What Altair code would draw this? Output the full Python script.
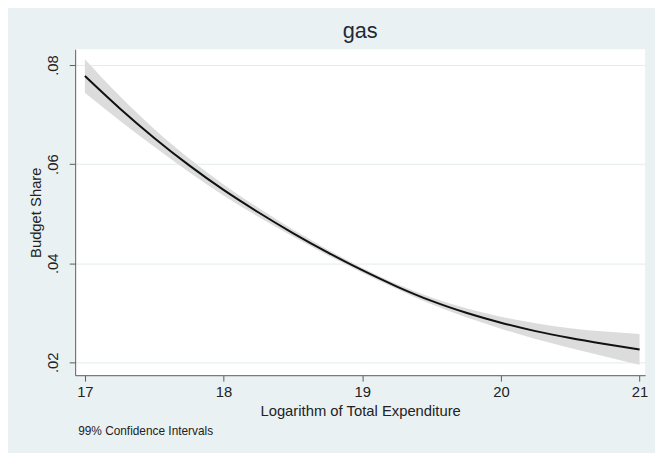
import altair as alt
import pandas as pd

# Logarithm of total expenditure (x) and fitted budget share with 99% CI
log_exp = [17.0, 17.25, 17.5, 17.75, 18.0, 18.25, 18.5, 18.75, 19.0,
           19.25, 19.5, 19.75, 20.0, 20.25, 20.5, 20.75, 21.0]
share = [0.0778, 0.0713, 0.0653, 0.0598, 0.0548, 0.0503, 0.0461, 0.0422, 0.0386,
         0.0353, 0.0324, 0.0300, 0.0280, 0.0263, 0.0249, 0.0237, 0.0226]
ci_half = [0.0034, 0.0025, 0.0018, 0.0014, 0.0011, 0.0009, 0.0007, 0.0006, 0.0005,
           0.0005, 0.0007, 0.0009, 0.0012, 0.0016, 0.0020, 0.0025, 0.0031]

df = pd.DataFrame({
    "x": log_exp,
    "y": share,
    "lo": [s - h for s, h in zip(share, ci_half)],
    "hi": [s + h for s, h in zip(share, ci_half)],
})

FONT = "Liberation Sans"
BG = "#eaf1f3"

xscale = alt.Scale(domain=[16.93, 21.04], nice=False, zero=False)
yscale = alt.Scale(domain=[0.0174, 0.0832], nice=False, zero=False)

xaxis = alt.Axis(values=[17, 18, 19, 20, 21], format="d", grid=False,
                 title="Logarithm of Total Expenditure",
                 domainColor="#5a5a5a", tickColor="#5a5a5a", tickSize=6,
                 labelFontSize=15, titleFontSize=15, labelColor="#222222",
                 titleColor="#222222", labelFont=FONT, titleFont=FONT,
                 labelPadding=4, titlePadding=4, titleFontWeight="normal",
                 labelFlush=False)
yaxis = alt.Axis(values=[0.02, 0.04, 0.06, 0.08],
                 labelExpr="substring(format(datum.value, '.2f'), 1)",
                 grid=True, gridColor="#e3ecee", gridWidth=1,
                 title="Budget Share",
                 domainColor="#5a5a5a", tickColor="#5a5a5a", tickSize=6,
                 labelAngle=270, labelAlign="center", labelBaseline="bottom",
                 labelFontSize=15, titleFontSize=15, labelColor="#222222",
                 titleColor="#222222", labelFont=FONT, titleFont=FONT,
                 labelPadding=9, titlePadding=2, titleFontWeight="normal",
                 labelFlush=False)

band = alt.Chart(df).mark_area(color="#dcdcdc", opacity=1,
                               interpolate="monotone").encode(
    x=alt.X("x:Q", scale=xscale, axis=xaxis),
    y=alt.Y("lo:Q", scale=yscale, axis=yaxis),
    y2="hi:Q",
)

line = alt.Chart(df).mark_line(color="#111111", strokeWidth=2,
                               interpolate="monotone").encode(
    x=alt.X("x:Q", scale=xscale),
    y=alt.Y("y:Q", scale=yscale),
)

note_df = pd.DataFrame({"t": ["99% Confidence Intervals"]})
note = alt.Chart(note_df).mark_text(align="left", baseline="middle",
                                    font=FONT, fontSize=12, color="#222222",
                                    clip=False).encode(
    text="t:N", x=alt.value(3), y=alt.value(387),
)

chart = alt.layer(band, line, note).properties(
    width=577, height=330,
    title=alt.TitleParams("gas", font=FONT, fontSize=22, fontWeight="normal",
                          color="#1e2a38", anchor="middle", offset=6),
    background=BG,
    padding={"left": 68, "top": 39, "right": 10, "bottom": 76},
    autosize=alt.AutoSizeParams(type="none"),
).configure_view(fill="white", stroke=None)

chart.save("out.html", embed_options={"renderer": "svg", "actions": False})
